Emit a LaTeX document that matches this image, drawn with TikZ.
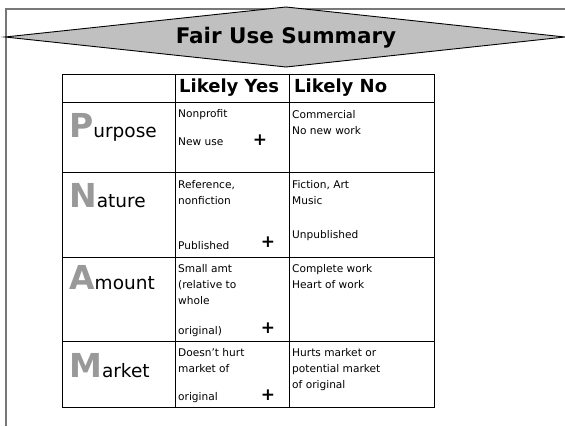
\documentclass[tikz,border=0pt]{standalone}
\usepackage{fontspec}
\setmainfont{DejaVu Sans}
\usetikzlibrary{positioning}
\usepackage{xcolor}

\definecolor{bannergray}{RGB}{192,192,192}
\definecolor{framegray}{RGB}{120,120,120}
\definecolor{lettergray}{RGB}{153,153,153}

\newcommand{\bigletter}[1]{{\fontsize{33}{33}\selectfont\bfseries\color{lettergray}#1}}

\begin{document}
\begin{tikzpicture}[x=1pt, y=-1pt,
  cell/.style={draw, line width=0.9pt, anchor=north west, inner sep=0pt, outer sep=0pt},
  header/.style={anchor=base west, inner sep=0pt, font=\fontsize{18}{18}\selectfont\bfseries},
  rowlabel/.style={anchor=base west, inner sep=0pt, font=\fontsize{18.5}{18.5}\selectfont},
  celltext/.style={anchor=base west, inner sep=0pt, font=\fontsize{10.6}{10.6}\selectfont},
  plus/.style={inner sep=0pt, font=\fontsize{17}{17}\selectfont\bfseries},
]
\useasboundingbox (0,0) rectangle (565,426);

% Frame and banner
\draw[framegray, line width=1.4pt] (6,426) -- (6,9) -- (565,9);
\coordinate (bannerW) at (5,37);
\coordinate (bannerN) at (286,7);
\coordinate (bannerE) at (565,37);
\coordinate (bannerS) at (286,67);
\draw[fill=bannergray, line width=0.9pt] (bannerW) -- (bannerN) -- (bannerE) -- (bannerS) -- cycle;
\node[font=\fontsize{21.5}{21.5}\selectfont\bfseries] (title) at (286,38) {Fair Use Summary};

% Header row
\node[cell, minimum width=113pt, minimum height=28pt] (hdrBlank) at (62,74) {};
\node[cell, minimum width=114pt, minimum height=28pt] (hdrYes) at (175,74) {};
\node[cell, minimum width=145pt, minimum height=28pt] (hdrNo) at (289,74) {};
\node[header] (yesText) at (179,92) {Likely Yes};
\node[header] (noText) at (294,92) {Likely No};

% Row 1: Purpose
\node[cell, minimum width=113pt, minimum height=70pt] (purposeLbl) at (62,102) {};
\node[cell, minimum width=114pt, minimum height=70pt] (purposeYes) at (175,102) {};
\node[cell, minimum width=145pt, minimum height=70pt] (purposeNo) at (289,102) {};
\node[rowlabel] (purposeText) at (69,137) {\bigletter{P}urpose};
\node[celltext] (purposeY1) at (178,117) {Nonprofit};
\node[celltext] (purposeY2) at (178,145) {New use};
\node[plus] (purposePlus) at (260,140) {+};
\node[celltext] (purposeN1) at (292,118) {Commercial};
\node[celltext] (purposeN2) at (292,134) {No new work};

% Row 2: Nature
\node[cell, minimum width=113pt, minimum height=85pt] (natureLbl) at (62,172) {};
\node[cell, minimum width=114pt, minimum height=85pt] (natureYes) at (175,172) {};
\node[cell, minimum width=145pt, minimum height=85pt] (natureNo) at (289,172) {};
\node[rowlabel] (natureText) at (69,207) {\bigletter{N}ature};
\node[celltext] (natureY1) at (178,188) {Reference,};
\node[celltext] (natureY2) at (178,204) {nonfiction};
\node[celltext] (natureY3) at (178,249) {Published};
\node[plus] (naturePlus) at (268,242) {+};
\node[celltext] (natureN1) at (292,188) {Fiction, Art};
\node[celltext] (natureN2) at (292,204) {Music};
\node[celltext] (natureN3) at (292,238) {Unpublished};

% Row 3: Amount
\node[cell, minimum width=113pt, minimum height=84pt] (amountLbl) at (62,257) {};
\node[cell, minimum width=114pt, minimum height=84pt] (amountYes) at (175,257) {};
\node[cell, minimum width=145pt, minimum height=84pt] (amountNo) at (289,257) {};
\node[rowlabel] (amountText) at (69,289) {\bigletter{A}mount};
\node[celltext] (amountY1) at (178,272) {Small amt};
\node[celltext] (amountY2) at (178,288) {(relative to};
\node[celltext] (amountY3) at (178,304) {whole};
\node[celltext] (amountY4) at (178,334) {original)};
\node[plus] (amountPlus) at (268,328) {+};
\node[celltext] (amountN1) at (292,272) {Complete work};
\node[celltext] (amountN2) at (292,288) {Heart of work};

% Row 4: Market
\node[cell, minimum width=113pt, minimum height=66pt] (marketLbl) at (62,341) {};
\node[cell, minimum width=114pt, minimum height=66pt] (marketYes) at (175,341) {};
\node[cell, minimum width=145pt, minimum height=66pt] (marketNo) at (289,341) {};
\node[rowlabel] (marketText) at (69,377) {\bigletter{M}arket};
\node[celltext] (marketY1) at (178,356) {Doesn’t hurt};
\node[celltext] (marketY2) at (178,372) {market of};
\node[celltext] (marketY3) at (178,400) {original};
\node[plus] (marketPlus) at (268,395) {+};
\node[celltext] (marketN1) at (292,356) {Hurts market or};
\node[celltext] (marketN2) at (292,372) {potential market};
\node[celltext] (marketN3) at (292,388) {of original};

\end{tikzpicture}
\end{document}
